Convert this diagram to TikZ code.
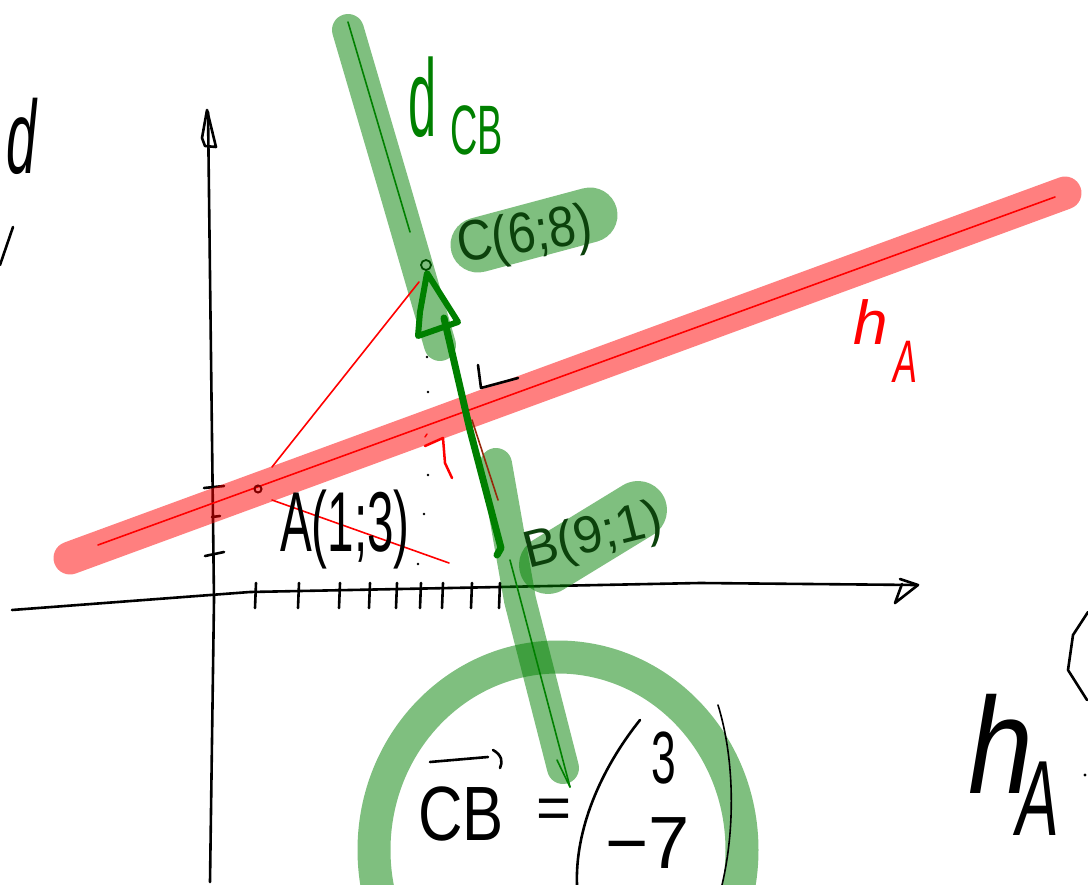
\documentclass[tikz,border=0pt]{standalone}
\usepackage{fontspec}
\setmainfont{Liberation Sans}
\usepackage{graphicx}
\definecolor{hlgreen}{RGB}{0,128,0}
\definecolor{hlred}{RGB}{255,0,0}
\definecolor{inkgreen}{RGB}{0,128,0}
\definecolor{labgreen}{RGB}{12,66,12}
\definecolor{inkred}{RGB}{255,0,0}
\definecolor{inkbrown}{RGB}{150,40,10}
\newcommand{\hwscale}[2]{\scalebox{#1}[1]{#2}}
\newcommand{\fsz}[1]{\fontsize{#1}{#1}\selectfont}
\begin{document}
\begin{tikzpicture}[x=1pt,y=-1pt,
  ink/.style={line width=2.6pt,line cap=round,line join=round},
  thinink/.style={line width=1.6pt,line cap=round,line join=round},
  hl/.style={line width=#1,line cap=round,line join=round,opacity=0.5},
  txt/.style={inner sep=0pt,outer sep=0pt,anchor=base west},
]
\path[use as bounding box] (0,0) rectangle (1088,885);
\clip (0,0) rectangle (1088,885);
\fill[white] (0,0) rectangle (1088,885);

% axes
\draw[ink] (210,882) -- (214,600) -- (208,112);
\draw[ink] (207,110) -- (202,138) -- (205,146) -- (216,147) -- cycle;
\draw[ink] (12,610) -- (250,592) -- (700,583) -- (916,585);
\draw[ink] (900,579) -- (918,585) -- (895,603) -- (902,584);
\foreach \x in {256,299,340,370,397,421,443,472,500}
  \draw[ink] (\x,583) -- (\x-1,608);
\draw[ink] (204,488) -- (224,486);
\draw[ink] (205,556) -- (224,552);
\draw[ink] (212,517) -- (220,516);

% highlighter strokes
\draw[hl=33pt, hlred] (70,558) -- (1065,193);
\draw[hl=32pt, hlgreen] (348,30) -- (395,190) -- (440,345);
\draw[hl=32pt, hlgreen] (496,464) -- (520,600) -- (563,768);
\draw[hl=55pt, hlgreen] (478,245) -- (590,215);
\draw[hl=58pt, hlgreen] (548,565) -- (638,510);
\draw[hl=33pt, hlgreen] (558,850) ellipse [x radius=184, y radius=193];

% thin lines
\draw[thinink, inkgreen] (348,22) -- (410,232);
\draw[thinink, inkgreen] (510,560) -- (570,787);
\draw[thinink, inkgreen] (557,760) -- (570,787);
\draw[thinink, inkred] (98,545) -- (1055,197);
\draw[thinink, inkred] (272,467) -- (419,282);
\draw[thinink, inkred] (272,500) -- (449,563);
\draw[thinink, inkbrown] (472,420) -- (498,500);

% vector CB
\draw[line width=7pt, inkgreen, line cap=round, line join=round] (497,555) -- (501,548) -- (470,430) -- (444,318);
\draw[line width=6pt, inkgreen, line cap=round, line join=round] (427,273) -- (420,312) -- (418,336) -- (458,322) -- cycle;

% points
\draw[line width=1.8pt, black!70!green] (426,265) circle (5);
\draw[line width=2pt, red!50!black] (258,489) circle (3.5);

% marks
\draw[line width=2.5pt, inkred, line cap=round, line join=round] (425,446) -- (443,438) -- (445,463) -- (452,478);
\draw[line width=1.5pt, inkred, line cap=round] (425,437) -- (427,434);
\draw[ink] (478,365) -- (481,388) -- (518,378);
\foreach \p in {(427,357),(428,392),(428,475),(424,514),(418,564)}
  \fill \p circle (1.4);
\draw[ink] (13,227) -- (0,265);
\draw[ink] (1088,612) -- (1073,635) -- (1068,670) -- (1087,700);
\fill (1085,775) circle (1.6);

% labels
\node[txt] (dlab) at (6,174) {\fsz{104}\itshape\hwscale{0.52}{d}};
\node[txt, text=inkgreen] (dcb) at (408,137) {\fsz{110}\hwscale{0.46}{d}};
\node[txt, text=inkgreen] (cbsub) at (450,155) {\fsz{70}\hwscale{0.54}{CB}};
\node[txt, rotate=9, text=labgreen] (Clab) at (460,263) {\fsz{57}\hwscale{0.86}{C(6;8)}};
\node[txt, rotate=14, text=labgreen] (Blab) at (528,568) {\fsz{52}B(9;1)};
\node[txt] (Alab) at (280,551) {\fsz{85}\hwscale{0.56}{A(1;3)}};
\node[txt, text=inkred] (hred) at (853,345) {\fsz{62}\itshape h};
\node[txt, text=inkred] (Ared) at (893,383) {\fsz{60}\itshape\hwscale{0.6}{A}};
\node[txt] (hblk) at (968,793) {\fsz{137}\itshape\hwscale{0.85}{h}};
\node[txt] (Ablk) at (1016,835) {\fsz{107}\itshape\hwscale{0.6}{A}};

% vector CB = (3, -7)
\node[txt] (CBvec) at (418,840) {\fsz{77}\hwscale{0.8}{CB}};
\draw[ink] (430,762) -- (488,757);
\draw[ink] (493,750) .. controls (502,755) and (503,762) .. (500,768);
\node[txt] (eq) at (536,828) {\fsz{60}=};
\node[txt] (three) at (651,783) {\fsz{74}\hwscale{0.6}{3}};
\node[txt] (mseven) at (605,868) {\fsz{74}−7};
\draw[ink] (640,720) .. controls (600,770) and (575,830) .. (577,885);
\draw[thinink] (718,705) .. controls (735,760) and (735,830) .. (722,885);
\end{tikzpicture}
\end{document}
